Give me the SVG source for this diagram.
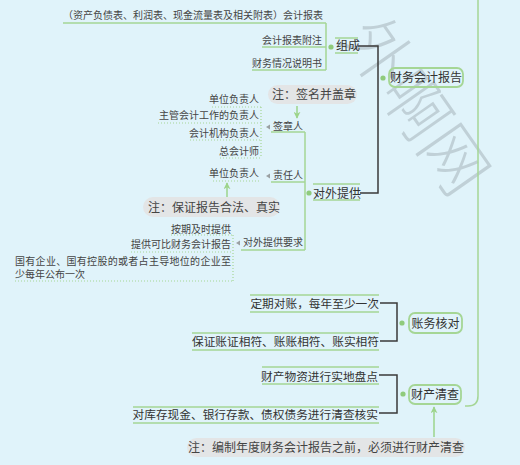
<svg xmlns="http://www.w3.org/2000/svg" width="520" height="465" viewBox="0 0 520 465">
<defs>
<style>
text{font-family:"Noto Sans CJK SC","Liberation Sans",sans-serif;fill:#444;}
.s10{font-size:10px;}
.s12{font-size:12px;fill:#333;}
.m12{font-size:11.7px;fill:#333;}
.e{text-anchor:end;}
.c{text-anchor:middle;}
.g{stroke:#a5d695;stroke-width:1.5;fill:none;}
.gd{stroke:#a5d695;stroke-width:1.2;fill:none;stroke-dasharray:1 2;}
.k{stroke:#3a3a3a;stroke-width:1.5;fill:none;}
.box{fill:none;stroke:#a5d695;stroke-width:1.8;}
.note{fill:#e3e5e6;}
.dot{fill:#8fcb7c;}
.tri{fill:#9aa0a2;}
.arr{stroke:#9dd48b;stroke-width:1.5;fill:none;marker-end:url(#ah);}
.wm{font-size:66px;fill:#8d9a9f;opacity:0.38;font-weight:300;}
</style>
<marker id="ah" viewBox="0 0 10 10" refX="9" refY="5" markerWidth="7" markerHeight="7" orient="auto" markerUnits="userSpaceOnUse">
<path d="M0,0 L10,5 L0,10 L3,5 Z" fill="#9dd48b"/>
</marker>
</defs>
<rect width="520" height="465" fill="#e0f3fa"/>

<g id="watermark">
<text class="wm" transform="translate(340,38) rotate(55)">外啊网</text>
</g>

<g id="connectors">
<path class="g" d="M478,0 V396 Q478,406 468,406 H465" stroke-width="2"/>
<path class="k" d="M358,46 H378 V193 H360"/>
<path class="k" d="M380,303 H397 V341 H380"/>
<path class="k" d="M379,375 H397 V413 H379"/>
<path class="g" d="M326,23 V70"/>
<path class="g" d="M305,132 V250"/>
<path class="gd" d="M261,107 V158"/>
<path class="gd" d="M233,235 V281"/>
<line class="arr" x1="297" y1="106" x2="297" y2="118"/>
<line class="arr" x1="227" y1="197" x2="227" y2="183"/>
<line class="arr" x1="434" y1="437" x2="434" y2="407"/>
</g>

<g id="n-report">
<circle class="dot" cx="383" cy="78" r="2.6"/>
<rect class="box" x="389" y="68" width="74" height="19" rx="6"/>
<text class="s12 c" x="426" y="82">财务会计报告</text>
</g>

<g id="n-zucheng">
<circle class="dot" cx="331" cy="47" r="2.6"/>
<line class="g" x1="335" y1="38" x2="358" y2="38"/>
<line class="g" x1="335" y1="53" x2="358" y2="53"/>
<text class="s12" x="336" y="50">组成</text>
</g>
<g id="n-kjbb">
<line class="g" x1="63" y1="23" x2="326" y2="23"/>
<text class="s10 e" x="323" y="18.5">（资产负债表、利润表、现金流量表及相关附表）会计报表</text>
</g>
<g id="n-fz">
<line class="g" x1="262" y1="47" x2="326" y2="47"/>
<text class="s10 e" x="322" y="43.5">会计报表附注</text>
</g>
<g id="n-sms">
<line class="g" x1="252" y1="70" x2="326" y2="70"/>
<text class="s10 e" x="322" y="66.5">财务情况说明书</text>
</g>

<g id="note1">
<rect class="note" x="268" y="85" width="89" height="19" rx="9.5"/>
<text class="s12" x="272" y="99" style="fill:#444">注：签名并盖章</text>
</g>

<g id="n-dwtg">
<circle class="dot" cx="309" cy="193" r="2.6"/>
<line class="g" x1="313" y1="184" x2="360" y2="184"/>
<line class="g" x1="313" y1="200" x2="360" y2="200"/>
<text class="s12" x="313" y="197.5">对外提供</text>
</g>

<g id="n-qzr">
<path class="tri" d="M266,127 L270,124.5 L270,129.5 Z"/>
<line class="g" x1="271" y1="132" x2="305" y2="132"/>
<text class="s10" x="273" y="129.5">签章人</text>
</g>
<g id="n-q1">
<line class="gd" x1="212" y1="107" x2="261" y2="107"/>
<text class="s10 e" x="259" y="102.5">单位负责人</text>
</g>
<g id="n-q2">
<line class="gd" x1="158" y1="123" x2="261" y2="123"/>
<text class="s10 e" x="259" y="118.5">主管会计工作的负责人</text>
</g>
<g id="n-q3">
<line class="gd" x1="190" y1="140" x2="261" y2="140"/>
<text class="s10 e" x="259" y="136.5">会计机构负责人</text>
</g>
<g id="n-q4">
<line class="gd" x1="220" y1="158" x2="261" y2="158"/>
<text class="s10 e" x="259" y="154.5">总会计师</text>
</g>

<g id="n-zrr">
<path class="tri" d="M266,176 L270,173.5 L270,178.5 Z"/>
<line class="g" x1="271" y1="182" x2="305" y2="182"/>
<text class="s10" x="273" y="178.5">责任人</text>
</g>
<g id="n-z1">
<line class="gd" x1="213" y1="181" x2="261" y2="181"/>
<text class="s10 e" x="259" y="176.5">单位负责人</text>
</g>

<g id="note2">
<rect class="note" x="143" y="197" width="137" height="20" rx="10"/>
<text class="s12" x="148" y="211.5" style="fill:#444">注：保证报告合法、真实</text>
</g>

<g id="n-yq">
<path class="tri" d="M236,243 L240,240.5 L240,245.5 Z"/>
<line class="g" x1="241" y1="250" x2="305" y2="250"/>
<text class="s10" x="243" y="245.5">对外提供要求</text>
</g>
<g id="n-y1">
<line class="gd" x1="171" y1="235" x2="233" y2="235"/>
<text class="s10 e" x="231" y="232.5">按期及时提供</text>
</g>
<g id="n-y2">
<line class="gd" x1="131" y1="252" x2="233" y2="252"/>
<text class="s10 e" x="231" y="247.5">提供可比财务会计报告</text>
</g>
<g id="n-y3">
<line class="gd" x1="15" y1="281" x2="233" y2="281"/>
<text class="s10"><tspan x="15" y="264.5" textLength="216" lengthAdjust="spacing">国有企业、国有控股的或者占主导地位的企业至</tspan><tspan x="15" y="277.5">少每年公布一次</tspan></text>
</g>

<g id="n-zwhd">
<circle class="dot" cx="402" cy="323" r="2.6"/>
<rect class="box" x="409" y="313" width="53" height="20" rx="6"/>
<text class="s12 c" x="435.5" y="327.5">账务核对</text>
</g>
<g id="n-d1">
<line class="g" x1="250" y1="295" x2="379" y2="295"/>
<line class="g" x1="250" y1="312" x2="379" y2="312"/>
<text class="m12 e" x="379" y="308">定期对账，每年至少一次</text>
</g>
<g id="n-d2">
<line class="g" x1="192" y1="333" x2="379" y2="333"/>
<line class="g" x1="192" y1="350" x2="379" y2="350"/>
<text class="m12 e" x="379" y="346">保证账证相符、账账相符、账实相符</text>
</g>

<g id="n-ccqc">
<circle class="dot" cx="403" cy="394" r="2.6"/>
<rect class="box" x="409" y="385" width="52" height="19" rx="6"/>
<text class="s12 c" x="435" y="399">财产清查</text>
</g>
<g id="n-c1">
<line class="g" x1="262" y1="367" x2="379" y2="367"/>
<line class="g" x1="262" y1="384" x2="379" y2="384"/>
<text class="m12 e" x="378" y="381">财产物资进行实地盘点</text>
</g>
<g id="n-c2">
<line class="g" x1="133" y1="407" x2="379" y2="407"/>
<line class="g" x1="133" y1="423" x2="379" y2="423"/>
<text class="m12 e" x="378" y="419">对库存现金、银行存款、债权债务进行清查核实</text>
</g>

<g id="note3">
<rect class="note" x="187" y="438" width="278" height="19" rx="9.5"/>
<text class="s12 c" x="326" y="452" style="fill:#444">注：编制年度财务会计报告之前，必须进行财产清查</text>
</g>
</svg>
